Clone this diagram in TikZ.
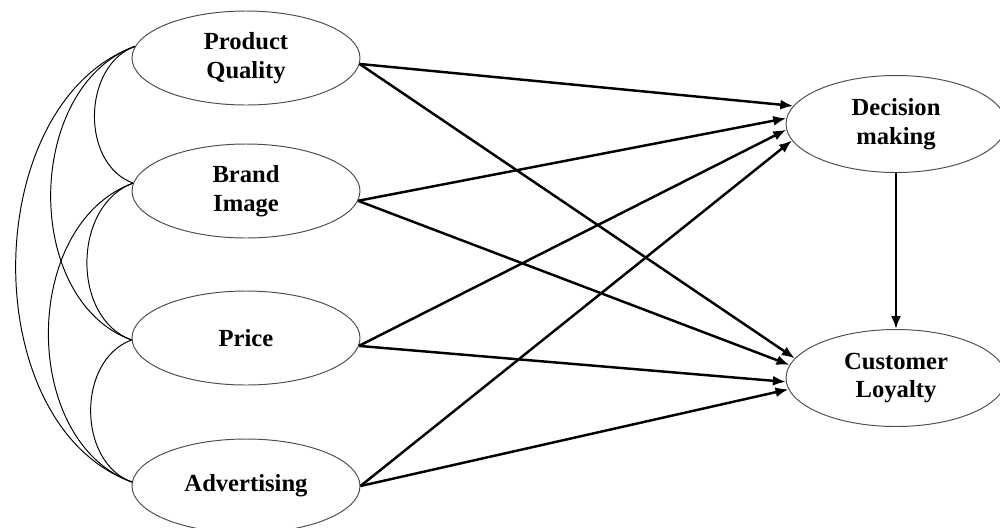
\documentclass[tikz,border=0pt]{standalone}
\usepackage{fontspec}
\setmainfont{Liberation Serif}
\usetikzlibrary{shapes.geometric,arrows.meta}

\begin{document}
\begin{tikzpicture}[x=0.2mm,y=-0.2mm,
  var/.style={ellipse,draw=black!70,line width=0.55pt,inner sep=0pt,align=center,
    minimum width=45.6mm,minimum height=18.8mm,font=\bfseries\fontsize{14}{16.5}\selectfont},
  effect/.style={line width=1.4pt,-{Latex[length=2.6mm,width=2mm]}},
  cov/.style={line width=0.55pt}]
\useasboundingbox (0,0) rectangle (1000,527);
\node[var] (pq) at (246,58) {Product\\Quality};
\node[var] (bi) at (246,191) {Brand\\Image};
\node[var] (pr) at (246,338) {Price};
\node[var] (ad) at (246,486) {Advertising};
\node[var,minimum width=44mm,minimum height=19.4mm] (dm) at (896,124) {Decision\\making};
\node[var,minimum width=44mm,minimum height=19.4mm] (cl) at (896,378) {Customer\\Loyalty};
\foreach \a/\b/\l in {pq.174/bi.176/1.05, pq.174/pr.181/1.02, pq.174/ad.178/0.98,
                      bi.176/pr.181/1.05, bi.176/ad.178/1.02, pr.181/ad.178/1.05}
    \draw[cov] (\a) to[out=200,in=160,looseness=\l] (\b);
\foreach \s/\a/\b in {pq.357/170/169, bi.355/177/173, pr.356/183/182, ad.east/189/186} {
    \draw[effect] (\s) -- (dm.\a);
    \draw[effect] (\s) -- (cl.\b);
}
\draw[effect] (dm.south) -- (cl.north);
\end{tikzpicture}
\end{document}
